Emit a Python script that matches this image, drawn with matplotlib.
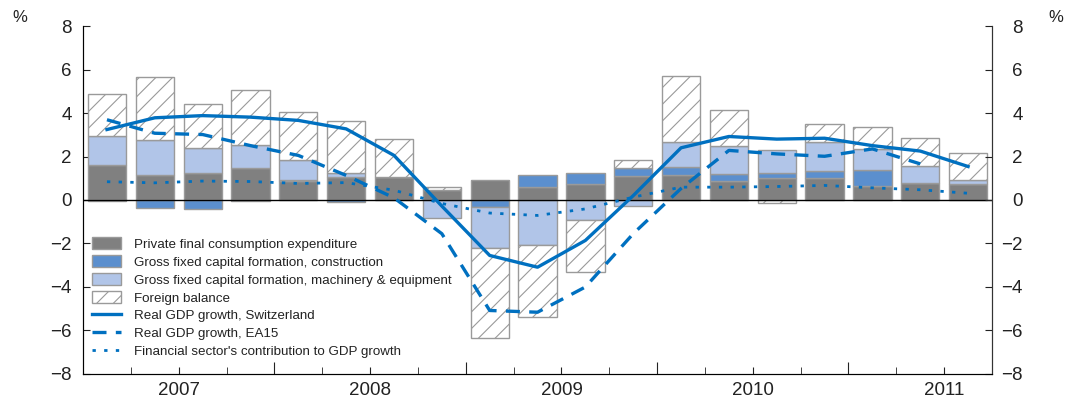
import numpy as np
import matplotlib
matplotlib.use("Agg")
import matplotlib.pyplot as plt

plt.rcParams['font.family'] = ['Liberation Sans', 'DejaVu Sans']
plt.rcParams['hatch.linewidth'] = 0.8

# quarterly data, 2007Q1 - 2011Q3
years = ['2007', '2008', '2009', '2010', '2011']
consumption = [1.60, 1.17, 1.23, 1.45, 0.87, 1.08, 1.08, 0.47, 0.90, 0.62,
               0.74, 1.11, 1.13, 0.87, 1.02, 1.02, 0.65, 0.77, 0.74]
construction = [-0.05, -0.35, -0.42, -0.03, 0.05, -0.08, 0.0, -0.02, -0.33, 0.51,
                0.52, 0.37, 0.38, 0.33, 0.21, 0.31, 0.71, 0.0, 0.0]
machinery = [1.32, 1.60, 1.14, 1.10, 0.93, 0.18, 0.0, -0.82, -1.87, -2.09,
             -0.91, -0.27, 1.17, 1.29, 1.05, 1.35, 0.99, 0.78, 0.19]
foreign = [1.96, 2.90, 2.03, 2.50, 2.19, 2.36, 1.72, 0.15, -4.14, -3.30,
           -2.41, 0.38, 3.04, 1.66, -0.15, 0.81, 1.00, 1.29, 1.24]
gdp_ch = [3.24, 3.78, 3.88, 3.81, 3.66, 3.27, 2.05, -0.28, -2.55, -3.09,
          -1.86, 0.20, 2.40, 2.92, 2.80, 2.84, 2.50, 2.25, 1.54]
gdp_ea15 = [3.69, 3.07, 3.01, 2.50, 2.05, 1.13, 0.10, -1.55, -5.08, -5.16,
            -4.00, -1.55, 0.53, 2.28, 2.12, 2.01, 2.35, 1.66]
fin_sector = [0.84, 0.79, 0.87, 0.85, 0.76, 0.80, 0.45, -0.16, -0.60, -0.71,
              -0.41, 0.13, 0.59, 0.59, 0.62, 0.67, 0.56, 0.47, 0.31]

components = [
    (consumption, 'Private final consumption expenditure', '#808080', None),
    (construction, 'Gross fixed capital formation, construction', '#5b8fce', None),
    (machinery, 'Gross fixed capital formation, machinery & equipment', '#b1c5e8', None),
    (foreign, 'Foreign balance', 'white', '//'),
]

blue = '#0070c0'
edge = '#9a9a9a'

fig = plt.figure(figsize=(10.66, 3.99), dpi=100)
ax = fig.add_axes([0.0779, 0.0627, 0.8527, 0.8721])

x = np.arange(len(consumption))
pos = np.zeros(len(x))
neg = np.zeros(len(x))
bar_handles = []
for vals, label, color, hatch in components:
    v = np.array(vals)
    bottom = np.where(v >= 0, pos, neg)
    b = ax.bar(x, v, width=0.8, bottom=bottom, color=color, edgecolor=edge,
               linewidth=1.0, hatch=hatch, label=label, zorder=2)
    bar_handles.append(b)
    pos = pos + np.where(v >= 0, v, 0)
    neg = neg + np.where(v < 0, v, 0)

ax.axhline(0, color='black', linewidth=1.0, zorder=3)

l1, = ax.plot(x, gdp_ch, color=blue, linewidth=2.4,
              label='Real GDP growth, Switzerland', zorder=4)
l2, = ax.plot(x[:len(gdp_ea15)], gdp_ea15, color=blue, linewidth=2.4,
              dashes=(4.2, 2.8), label='Real GDP growth, EA15', zorder=4)
l3, = ax.plot(x, fin_sector, color=blue, linewidth=2.0, dashes=(1.2, 3.0),
              label="Financial sector's contribution to GDP growth", zorder=4)

ax.set_xlim(-0.5, len(x) - 0.5)
ax.set_ylim(-8, 8)
ax.set_yticks(np.arange(-8, 9, 2))
ax.tick_params(axis='y', direction='in', length=5, labelsize=13.5, pad=8,
               colors='#222222')
ax.spines['top'].set_visible(False)
for s in ['left', 'bottom', 'right']:
    ax.spines[s].set_color('#333333')

# year labels in the middle of each year, quarter boundaries as ticks
year_mid = [1.5 + 4 * i for i in range(len(years))]
ax.set_xticks(year_mid)
ax.set_xticklabels(years)
quarter_edges = [q + 0.5 for q in range(len(x) - 1)]
year_edges = [e for e in quarter_edges if (e + 0.5) % 4 == 0]
minor_edges = [e for e in quarter_edges if e not in year_edges]
ax.set_xticks(minor_edges, minor=True)
ax.tick_params(axis='x', which='both', direction='in', colors='#222222')
ax.tick_params(axis='x', which='major', length=5, labelsize=13.5, pad=6)
ax.tick_params(axis='x', which='minor', length=5)
sec = ax.secondary_xaxis('bottom')
sec.set_xticks(year_edges)
sec.set_xticklabels([])
sec.tick_params(direction='in', length=9, colors='#222222')
sec.spines['bottom'].set_visible(False)

ax2 = ax.twinx()
ax2.set_ylim(-8, 8)
ax2.set_yticks(np.arange(-8, 9, 2))
ax2.tick_params(axis='y', direction='in', length=5, labelsize=13.5, pad=22,
                colors='#222222')
for lbl in ax2.get_yticklabels():
    lbl.set_horizontalalignment('right')
ax2.spines['top'].set_visible(False)
ax2.spines['right'].set_color('#333333')

fig.text(0.012, 0.945, '%', fontsize=12, color='#222222')
fig.text(0.983, 0.945, '%', fontsize=12, color='#222222')

handles = bar_handles + [l1, l2, l3]
leg = ax.legend(handles=handles, loc='lower left', bbox_to_anchor=(0.01, 0.045),
                frameon=False, fontsize=9.6, handlelength=2.2, handleheight=1.0,
                handletextpad=0.95, labelspacing=0.33, borderpad=0,
                borderaxespad=0)
for t in leg.get_texts():
    t.set_color('#222222')

fig.savefig('out.png', dpi=100)
